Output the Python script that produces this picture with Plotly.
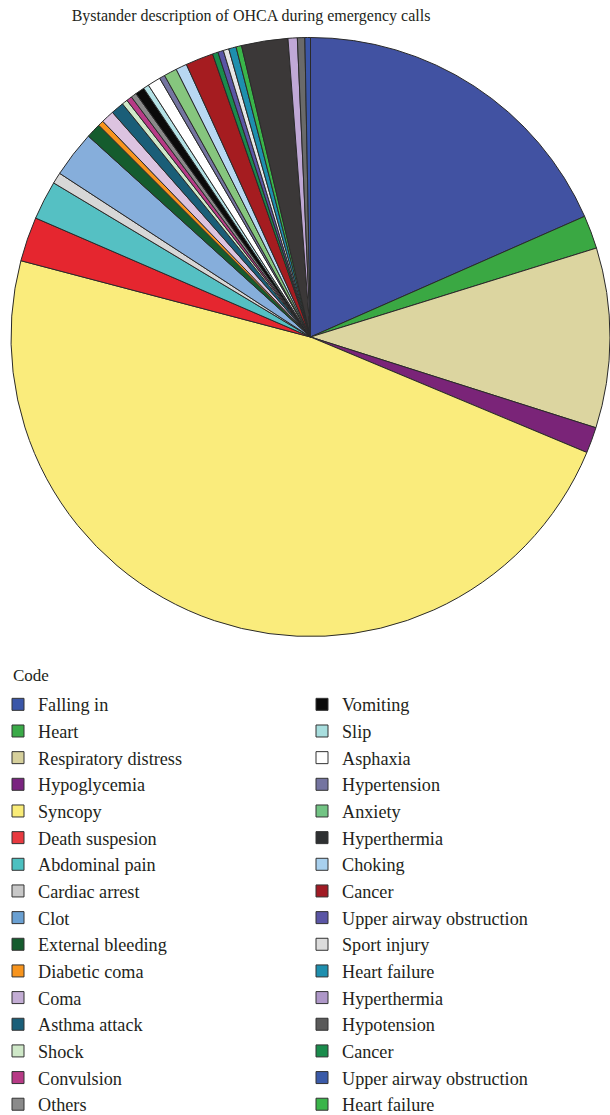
import plotly.graph_objects as go

# Slices in drawing order (clockwise from 12 o'clock)
slice_labels = ["Falling in", "Heart", "Respiratory distress", "Hypoglycemia", "Syncopy",
                "Death suspesion", "Abdominal pain", "Cardiac arrest", "Clot", "External bleeding",
                "Diabetic coma", "Coma", "Asthma attack", "Shock", "Convulsion", "Others",
                "Vomiting", "Slip", "Asphaxia", "Hypertension", "Anxiety", "Choking",
                "Cancer", "Cancer ", "Upper airway obstruction", "Sport injury", "Heart failure",
                "Heart failure ", "Hyperthermia", "Hyperthermia ", "Hypotension",
                "Upper airway obstruction "]
slice_values = [18.4, 1.8, 9.7, 1.4, 47.8,
                2.4, 2.1, 0.6, 2.5, 0.8,
                0.3, 0.7, 0.7, 0.3, 0.3, 0.3,
                0.5, 0.3, 0.7, 0.3, 0.7, 0.6,
                1.5, 0.3, 0.3, 0.3, 0.4,
                0.3, 2.5, 0.5, 0.4,
                0.3]
slice_colors = ["#4152a2", "#3aa843", "#dcd5a0", "#7a2478", "#faec7c",
                "#e5262f", "#55c0c3", "#d7d7d7", "#86aedb", "#155c2e",
                "#f7941d", "#dcc3e0", "#1a5e78", "#cfe8c8", "#b73a86", "#8a8a8a",
                "#0a0a0a", "#b4e2e6", "#ffffff", "#7474a0", "#86c67e", "#b8d8f2",
                "#a51c20", "#1a8c4c", "#5a55a5", "#e6e6e6", "#1e8fae",
                "#3ab54a", "#3b3838", "#c0a8d6", "#6a6a6a",
                "#3a55a8"]

# Legend entries (two columns, column-major)
legend_title = "Code"
legend_col1 = ["Falling in", "Heart", "Respiratory distress", "Hypoglycemia", "Syncopy",
               "Death suspesion", "Abdominal pain", "Cardiac arrest", "Clot", "External bleeding",
               "Diabetic coma", "Coma", "Asthma attack", "Shock", "Convulsion", "Others"]
legend_col1_colors = ["#3a56a8", "#3aaa48", "#d6d09c", "#7a2480", "#f9ec78",
                      "#e83a40", "#4cc0c0", "#c8c8c8", "#6aa0d2", "#155c2e",
                      "#f7941d", "#c3add4", "#1a5e78", "#cfe8c8", "#b73a86", "#8a8a8a"]
legend_col2 = ["Vomiting", "Slip", "Asphaxia", "Hypertension", "Anxiety", "Hyperthermia",
               "Choking", "Cancer", "Upper airway obstruction", "Sport injury", "Heart failure",
               "Hyperthermia", "Hypotension", "Cancer", "Upper airway obstruction", "Heart failure"]
legend_col2_colors = ["#0a0a0a", "#a8dede", "#ffffff", "#7474a0", "#72c484", "#2e3032",
                      "#a8d0ee", "#a01b24", "#5a55a5", "#dcdcdc", "#1e8fae",
                      "#ae97c8", "#5a5a5a", "#1a8c4c", "#3a5aa8", "#3ab54a"]

W, H = 610, 1115
FONT = "Liberation Serif"
TXT = "#231f20"
FS = 18.2

fig = go.Figure()
fig.add_trace(go.Pie(
    labels=slice_labels, values=slice_values, sort=False, direction="clockwise",
    rotation=0, textinfo="none", showlegend=False,
    marker=dict(colors=slice_colors, line=dict(color="#2a2a2a", width=1)),
    domain=dict(x=[11 / W, 1.0], y=[1 - 638 / H, 1 - 36 / H]),
))

for i, (lab, col) in enumerate(zip(legend_col1, legend_col1_colors)):
    fig.add_trace(go.Scatter(x=[None], y=[None], mode="markers", name=lab,
                             legend="legend",
                             marker=dict(symbol="square", size=12, color=col,
                                         line=dict(color="#333333", width=1))))
for i, (lab, col) in enumerate(zip(legend_col2, legend_col2_colors)):
    fig.add_trace(go.Scatter(x=[None], y=[None], mode="markers", name=lab,
                             legend="legend2",
                             marker=dict(symbol="square", size=12, color=col,
                                         line=dict(color="#333333", width=1))))

leg_common = dict(font=dict(family=FONT, size=FS, color=TXT), traceorder="normal",
                  bgcolor="rgba(0,0,0,0)", itemclick=False, maxheight=1000,
                  xanchor="left", yanchor="top")

fig.update_layout(
    width=W, height=H,
    margin=dict(l=0, r=0, t=0, b=0, autoexpand=False),
    paper_bgcolor="white", plot_bgcolor="white",
    title=dict(text="Bystander description of OHCA during emergency calls",
               x=251 / W, xanchor="center", y=1 - 15 / H, yanchor="middle",
               xref="paper", yref="paper",
               font=dict(family=FONT, size=16, color=TXT)),
    xaxis=dict(visible=False, domain=[0, 0.01]),
    yaxis=dict(visible=False, domain=[0, 0.01]),
    legend=dict(x=-2 / W, y=1 - 686 / H, **leg_common),
    legend2=dict(x=302 / W, y=1 - 686 / H, **leg_common),
    showlegend=True,
    annotations=[dict(text=legend_title, x=11 / W, y=1 - 675 / H, xref="paper", yref="paper",
                      xanchor="left", yanchor="middle", showarrow=False,
                      font=dict(family=FONT, size=17, color=TXT))],
)

fig.write_html("out.html")
